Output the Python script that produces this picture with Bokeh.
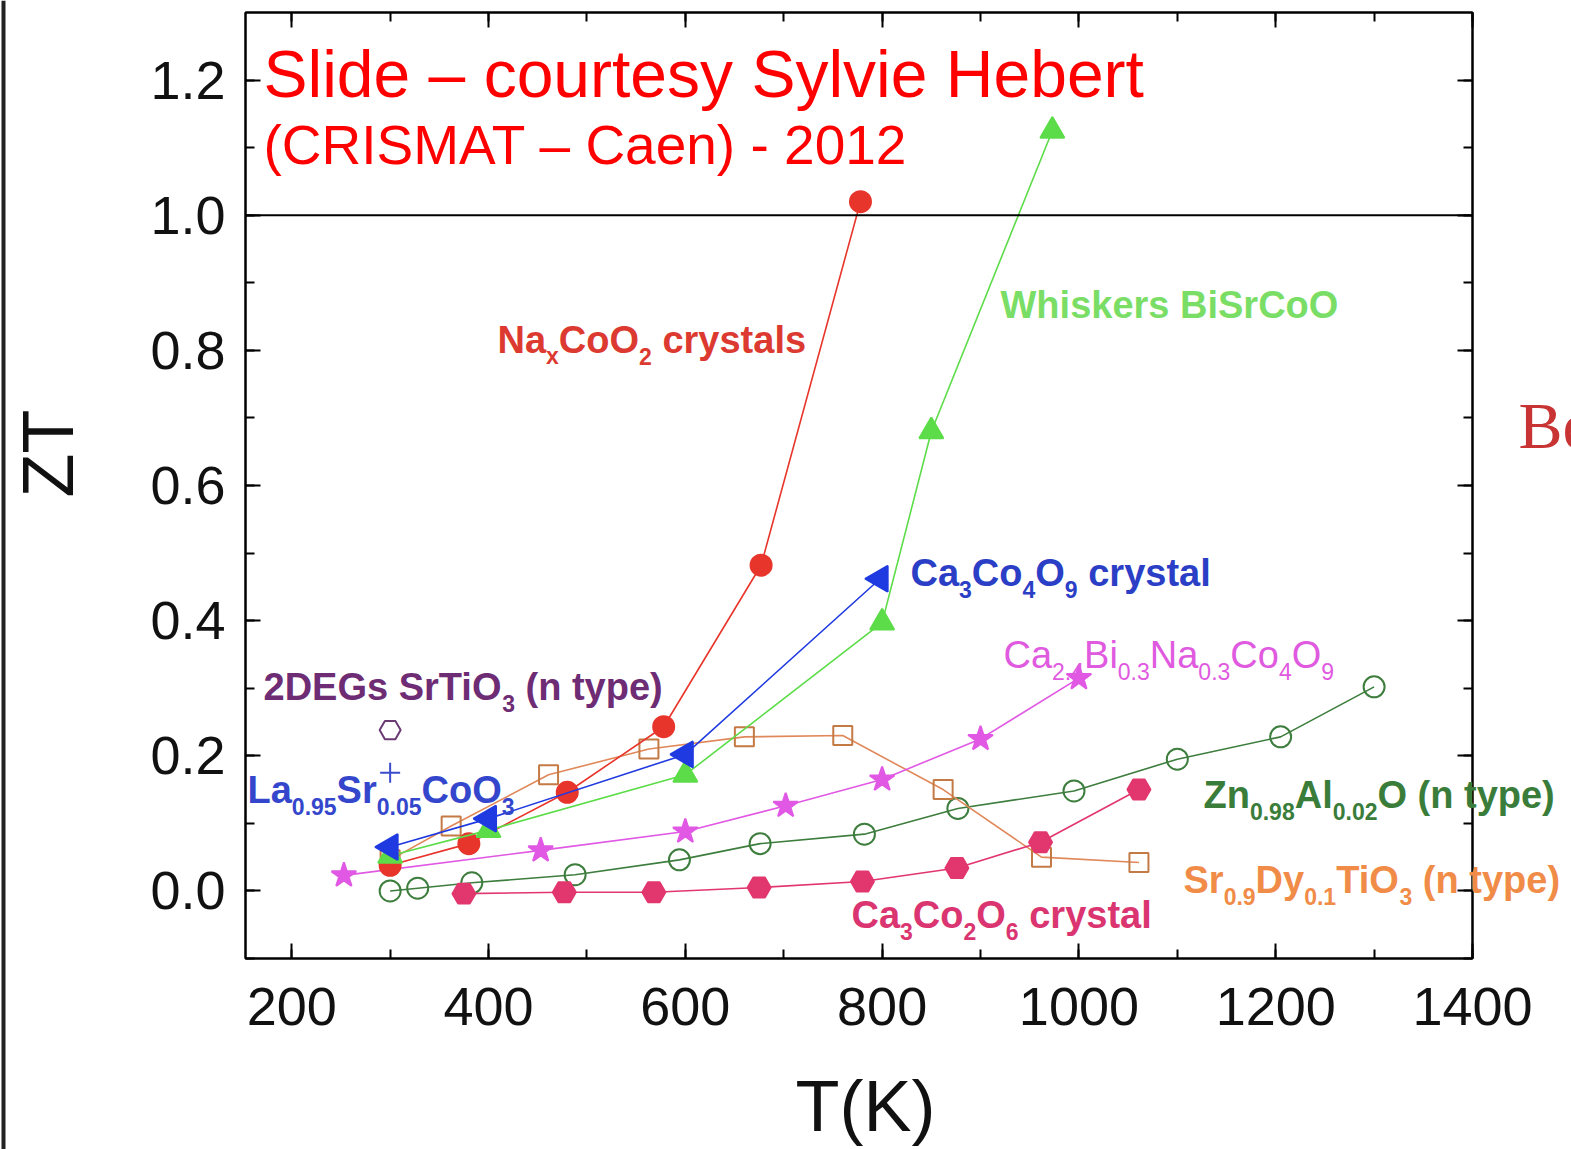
from bokeh.plotting import figure
from bokeh.models import (Range1d, LinearAxis, SingleIntervalTicker, GridBox,
                          NumeralTickFormatter, Span, Label, BoxAnnotation)
from bokeh.embed import file_html
from bokeh.resources import INLINE

# ---- data: ZT versus temperature T (K) ----
naxcoo2_T = [300, 380, 480, 578, 677, 778]
naxcoo2_ZT = [0.038, 0.07, 0.146, 0.243, 0.482, 1.02]

whiskers_T = [300, 400, 600, 800, 850, 973]
whiskers_ZT = [0.052, 0.09, 0.172, 0.397, 0.68, 1.125]

ca3co4o9_T = [300, 400, 600, 798]
ca3co4o9_ZT = [0.065, 0.107, 0.202, 0.462]

cabina_T = [253, 453, 600, 702, 800, 900, 1000]
cabina_ZT = [0.023, 0.06, 0.088, 0.126, 0.165, 0.225, 0.315]

znalo_T = [300, 328, 383, 488, 594, 676, 782, 877, 995, 1100, 1205, 1300]
znalo_ZT = [0.0, 0.004, 0.012, 0.024, 0.046, 0.07, 0.084, 0.122, 0.148, 0.195, 0.228, 0.302]

srdytio_T = [300, 362, 461, 563, 660, 760, 862, 962, 1061]
srdytio_ZT = [0.046, 0.096, 0.172, 0.21, 0.228, 0.23, 0.15, 0.05, 0.042]

ca3co2o6_T = [375, 477, 568, 675, 780, 876, 961, 1061]
ca3co2o6_ZT = [-0.004, -0.002, -0.002, 0.005, 0.014, 0.034, 0.072, 0.15]

deg2_T = [300]
deg2_ZT = [0.238]

lasrcoo_T = [300]
lasrcoo_ZT = [0.175]

x_ticks_interval = 200
y_ticks_interval = 0.2

# ---- canvas / frame geometry (pixels) ----
W, H = 1571, 1149
FL, FR, FT, FB = 245, 1472, 12, 958
X0, X1 = 153, 1400
Y0, Y1 = -0.1, 1.3


def tx(px):
    return X0 + (px - FL) * (X1 - X0) / (FR - FL)


def ty(py):
    return Y1 - (py - FT) * (Y1 - Y0) / (FB - FT)


# main chart
p = figure(width=W, height=H, x_range=Range1d(X0, X1), y_range=Range1d(Y0, Y1),
           output_backend="svg", toolbar_location=None,
           min_border_left=FL, min_border_right=W - FR,
           min_border_top=FT, min_border_bottom=H - FB)
p.background_fill_color = "white"
p.border_fill_color = "white"
p.grid.visible = False
p.outline_line_color = "black"
p.outline_line_width = 2

xt = SingleIntervalTicker(interval=x_ticks_interval, num_minor_ticks=2)
yt = SingleIntervalTicker(interval=y_ticks_interval, num_minor_ticks=2)

AX_FONT = "Liberation Sans"


def style_axis(ax):
    ax.major_tick_in = 15
    ax.major_tick_out = 0
    ax.minor_tick_in = 9
    ax.minor_tick_out = 0
    ax.major_tick_line_width = 2
    ax.minor_tick_line_width = 2
    ax.axis_line_width = 2
    ax.major_tick_line_color = "black"
    ax.minor_tick_line_color = "black"
    ax.axis_line_color = "black"
    ax.major_label_text_font = AX_FONT
    ax.major_label_text_font_size = "54px"
    ax.major_label_text_color = "#111111"


xa = p.xaxis[0]
ya = p.yaxis[0]
xa.ticker = xt
ya.ticker = yt
ya.formatter = NumeralTickFormatter(format="0.0")
style_axis(xa)
style_axis(ya)
xa.major_label_standoff = 29
ya.major_label_standoff = 20

for side, tk in (("above", xt), ("right", yt)):
    ax = LinearAxis(ticker=tk, axis_label=None)
    style_axis(ax)
    ax.major_label_text_color = None
    ax.major_label_text_font_size = "1px"
    ax.major_label_standoff = 0
    p.add_layout(ax, side)

p.add_layout(Span(location=1.0, dimension="width", line_color="black", line_width=2))


# ---- series ----
def series(xs, ys, color, marker, size, fill=True, edge=None, angle=0.0, lw=1.6):
    p.line(xs, ys, line_color=color, line_width=lw)
    p.scatter(xs, ys, marker=marker, size=size, angle=angle,
              fill_color=color if fill else None,
              line_color=edge or color, line_width=2)


series(znalo_T, znalo_ZT, "#3d7d3d", "circle", 21, fill=False)
series(srdytio_T, srdytio_ZT, "#e0885a", "square", 19, fill=False, edge="#c47a44")
series(ca3co2o6_T, ca3co2o6_ZT, "#e2366e", "hex", 23)
series(cabina_T, cabina_ZT, "#e058e4", "star", 26)
series(naxcoo2_T, naxcoo2_ZT, "#e8352b", "circle", 21)
series(whiskers_T, whiskers_ZT, "#5cdc48", "triangle", 24)
series(ca3co4o9_T, ca3co4o9_ZT, "#1f3ae0", "triangle", 26, angle=1.5708)
p.scatter(deg2_T, deg2_ZT, marker="hex", size=21, fill_color=None,
          line_color="#6b3a74", line_width=2)
p.scatter(lasrcoo_T, lasrcoo_ZT, marker="cross", size=20,
          line_color="#3a4ccc", line_width=2)

# transparent text layer over the whole canvas (same data mapping as the chart),
# so that captions may run past the plot frame
q = figure(width=W, height=H, x_range=Range1d(tx(0), tx(W)), y_range=Range1d(ty(H), ty(0)),
           output_backend="svg", toolbar_location=None, min_border=0,
           x_axis_location=None, y_axis_location=None)
q.grid.visible = False
q.outline_line_color = None
q.background_fill_color = None
q.border_fill_color = None
if "frame_align" in q.properties():
    q.frame_align = False
    p.frame_align = False

# rendered glyphs sit about 0.36 em below the requested alphabetic baseline
BASE_SHIFT = 0.36


def caption(text, px, py, size, color, font=AX_FONT, style="normal"):
    q.add_layout(Label(x=tx(px), y=ty(py - BASE_SHIFT * size), text=text,
                       text_font=font, text_font_size=f"{size}px",
                       text_font_style=style, text_color=color,
                       text_align="left", text_baseline="alphabetic"))


# ---- compound labels with subscripts ----
LBL_FONT = "Liberation Sans"
BOLD_W = {' ': 278, '(': 333, ')': 333, '.': 278, 'A': 722, 'B': 722, 'C': 722,
          'D': 722, 'E': 667, 'G': 778, 'L': 611, 'N': 722, 'O': 778, 'S': 667,
          'T': 611, 'W': 944, 'Z': 611, 'a': 556, 'c': 556, 'e': 556, 'h': 611,
          'i': 278, 'k': 556, 'l': 278, 'n': 611, 'o': 611, 'p': 611, 'r': 389,
          's': 556, 't': 333, 'x': 556, 'y': 556}
REG_W = {' ': 278, '.': 278, 'B': 667, 'C': 722, 'N': 722, 'O': 778, 'a': 556,
         'i': 222, 'o': 556}


def text_width(s, size, bold):
    table = BOLD_W if bold else REG_W
    return sum(table.get(ch, 556) for ch in s) / 1000.0 * size


def formula(parts, px, py, color, bold=True, size=38, sub=23, drop=11):
    x = px
    style = "bold" if bold else "normal"
    for txt, is_sub in parts:
        fs = sub if is_sub else size
        lead = len(txt) - len(txt.lstrip(" "))
        x += text_width(" " * lead, fs, bold)
        body = txt.lstrip(" ")
        caption(body, x, py + (drop if is_sub else 0), fs, color, LBL_FONT, style)
        x += text_width(body, fs, bold)


formula([("Na", 0), ("x", 1), ("CoO", 0), ("2", 1), (" crystals", 0)],
        497, 353, "#dc3a30")
formula([("Whiskers BiSrCoO", 0)], 1000, 318, "#7ade66")
formula([("Ca", 0), ("3", 1), ("Co", 0), ("4", 1), ("O", 0), ("9", 1), (" crystal", 0)],
        910, 586, "#2b3ec6")
formula([("Ca", 0), ("2.4", 1), ("Bi", 0), ("0.3", 1), ("Na", 0), ("0.3", 1),
         ("Co", 0), ("4", 1), ("O", 0), ("9", 1)],
        1003, 668, "#e05ae0", bold=False)
formula([("2DEGs SrTiO", 0), ("3", 1), (" (n type)", 0)], 263, 700, "#6e2c74")
formula([("La", 0), ("0.95", 1), ("Sr", 0), ("0.05", 1), ("CoO", 0), ("3", 1)],
        247, 803, "#3447cc")
formula([("Zn", 0), ("0.98", 1), ("Al", 0), ("0.02", 1), ("O (n type)", 0)],
        1203, 808, "#3a7d3a")
formula([("Sr", 0), ("0.9", 1), ("Dy", 0), ("0.1", 1), ("TiO", 0), ("3", 1), (" (n type)", 0)],
        1183, 893, "#f08c48")
formula([("Ca", 0), ("3", 1), ("Co", 0), ("2", 1), ("O", 0), ("6", 1), (" crystal", 0)],
        851, 928, "#da3570")

# ---- axis titles ----
q.add_layout(Label(x=tx(865), y=ty(1131 - BASE_SHIFT * 72), text="T(K)", text_font=AX_FONT,
                   text_font_size="72px", text_color="#111111",
                   text_align="center", text_baseline="alphabetic"))
q.add_layout(Label(x=tx(73 - BASE_SHIFT * 72), y=ty(453), text="ZT", text_font=AX_FONT,
                   text_font_size="72px", text_color="#111111", angle=1.5708,
                   text_align="center", text_baseline="alphabetic"))

# ---- slide credit and page remnants ----
caption("Slide \u2013 courtesy Sylvie Hebert", 263, 97, 66, "#ff0000")
caption("(CRISMAT \u2013 Caen) - 2012", 263, 164, 55, "#ff0000")
caption("Be", 1518, 449, 66, "#c83434", font="Liberation Serif")
q.add_layout(BoxAnnotation(left=tx(1), right=tx(5),
                           fill_color="#222222", fill_alpha=1.0, line_color=None))

page = GridBox(children=[(p, 0, 0), (q, 0, 0)], spacing=0)
open("out.html", "w").write(file_html(page, INLINE))
